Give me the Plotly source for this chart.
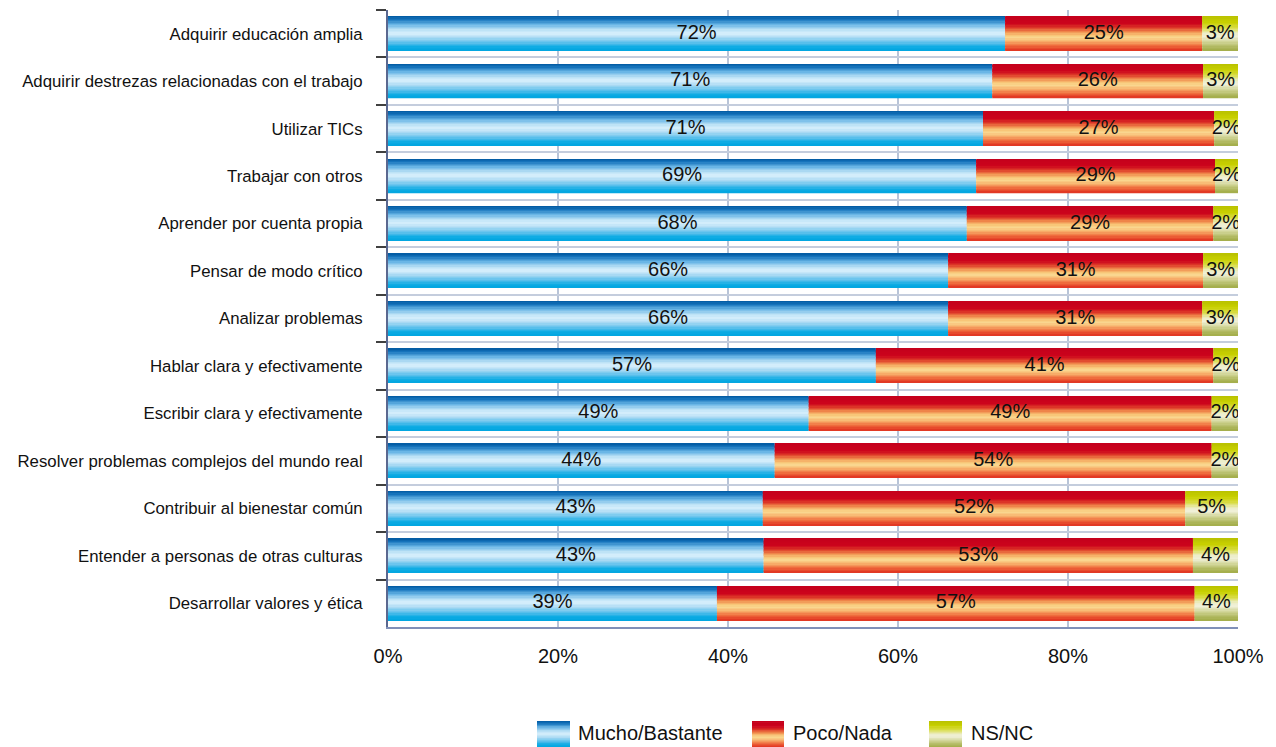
import plotly.graph_objects as go

# ---------------- data ----------------
categories = [
    "Adquirir educación amplia",
    "Adquirir destrezas relacionadas con el trabajo",
    "Utilizar TICs",
    "Trabajar con otros",
    "Aprender por cuenta propia",
    "Pensar de modo crítico",
    "Analizar problemas",
    "Hablar clara y efectivamente",
    "Escribir clara y efectivamente",
    "Resolver problemas complejos del mundo real",
    "Contribuir al bienestar común",
    "Entender a personas de otras culturas",
    "Desarrollar valores y ética",
]
# bar lengths as drawn (percent)
mucho = [72.6, 71.1, 70.0, 69.2, 68.1, 65.9, 65.9, 57.4, 49.5, 45.5, 44.1, 44.2, 38.7]
poco = [23.2, 24.8, 27.2, 28.1, 29.0, 30.0, 29.9, 39.7, 47.4, 51.4, 49.7, 50.5, 56.2]
nsnc = [4.2, 4.1, 2.8, 2.7, 2.9, 4.1, 4.2, 2.9, 3.1, 3.1, 6.2, 5.3, 5.1]
# printed labels
mucho_lbl = [72, 71, 71, 69, 68, 66, 66, 57, 49, 44, 43, 43, 39]
poco_lbl = [25, 26, 27, 29, 29, 31, 31, 41, 49, 54, 52, 53, 57]
nsnc_lbl = [3, 3, 2, 2, 2, 3, 3, 2, 2, 2, 5, 4, 4]
series_names = ["Mucho/Bastante", "Poco/Nada", "NS/NC"]
x_tickvals = [0, 20, 40, 60, 80, 100]
x_ticktext = ["0%", "20%", "40%", "60%", "80%", "100%"]

# ---------------- styles ----------------
GRAD = {
    "Mucho/Bastante": [(0.0, "#0058a0"), (0.10, "#1674bc"), (0.25, "#6ab6e6"),
                       (0.40, "#bde2f6"), (0.50, "#d8f0fc"), (0.62, "#b0dcf4"),
                       (0.78, "#5cc0ec"), (0.90, "#10ace4"), (1.0, "#00a6e0")],
    "Poco/Nada": [(0.0, "#c4001c"), (0.22, "#cc041c"), (0.34, "#de3a28"),
                  (0.45, "#f08a4c"), (0.55, "#f8c476"), (0.63, "#fad890"),
                  (0.73, "#f8b670"), (0.86, "#f06e3e"), (1.0, "#e03020")],
    "NS/NC": [(0.0, "#b8c000"), (0.18, "#c8d000"), (0.34, "#d8dc44"),
              (0.50, "#ecedc8"), (0.60, "#f0f0d8"), (0.75, "#d2d69a"),
              (0.90, "#b2ba62"), (1.0, "#a2ac48")],
}
NSLICE = 26
BARW = 0.72
LABEL_FONT = "Liberation Sans, Arial, sans-serif"
NUM_FONT = "Liberation Sans, Arial, sans-serif"

# page offset of the figure (browser body margin)
OFF = 8
PAGE_W, PAGE_H = 1276, 747


def hex2rgb(h):
    h = h.lstrip("#")
    return [int(h[i:i + 2], 16) for i in (0, 2, 4)]


def interp(stops, t):
    for (p0, c0), (p1, c1) in zip(stops[:-1], stops[1:]):
        if p0 <= t <= p1:
            f = (t - p0) / (p1 - p0) if p1 > p0 else 0
            a, b = hex2rgb(c0), hex2rgb(c1)
            r = [round(a[k] + (b[k] - a[k]) * f) for k in range(3)]
            return "rgb({},{},{})".format(*r)
    return stops[-1][1]


fig = go.Figure()

values = [mucho, poco, nsnc]
labels = [mucho_lbl, poco_lbl, nsnc_lbl]
bases = []
acc = [0.0] * len(categories)
for vals in values:
    bases.append(list(acc))
    acc = [a + v for a, v in zip(acc, vals)]

dw = BARW / NSLICE
for name, vals, base in zip(series_names, values, bases):
    for i in range(NSLICE):
        t = (i + 0.5) / NSLICE
        w = dw * 1.35 if i < NSLICE - 1 else dw
        fig.add_trace(go.Bar(
            y=categories, x=vals, base=base, orientation="h",
            offset=-BARW / 2 + i * dw, width=w,
            marker=dict(color=interp(GRAD[name], t), line=dict(width=0)),
            showlegend=False, hoverinfo="skip",
        ))

for vals, base, lbl in zip(values, bases, labels):
    fig.add_trace(go.Scatter(
        y=categories, x=[b + v / 2 for b, v in zip(base, vals)],
        mode="text", text=[f"{l}%" for l in lbl],
        textfont=dict(family=NUM_FONT, size=20, color="#111111"),
        showlegend=False, hoverinfo="skip",
    ))

# ---------------- legend (gradient swatches) ----------------
# plot area in page pixels
L, R, T, B = 388, 1238, 10, 627


def px2x(px):
    return (px - L) / (R - L)


def py2y(py):
    return (B - py) / (B - T)


legend_items = [(537, 570, 576), (752, 784, 791), (929, 962, 969)]
shapes = []
annotations = []
NS = 20
for name, (sx0, sx1, tx) in zip(series_names, legend_items):
    y_top, y_bot = 721, 747
    h = (y_bot - y_top) / NS
    for i in range(NS):
        t = (i + 0.5) / NS
        shapes.append(dict(
            type="rect", xref="paper", yref="paper",
            x0=px2x(sx0), x1=px2x(sx1),
            y0=py2y(y_top + i * h), y1=py2y(y_top + (i + 1) * h + (0.6 if i < NS - 1 else 0)),
            fillcolor=interp(GRAD[name], t), line=dict(width=0), layer="above",
        ))
    annotations.append(dict(
        xref="paper", yref="paper", x=px2x(tx), y=py2y(733),
        xanchor="left", yanchor="middle", text=name, showarrow=False,
        font=dict(family=NUM_FONT, size=20, color="#111111"),
    ))

W, H = PAGE_W - OFF, PAGE_H - OFF
fig.update_layout(
    width=W, height=H,
    margin=dict(l=L - OFF, r=PAGE_W - R, t=T - OFF, b=PAGE_H - B, pad=0, autoexpand=False),
    barmode="overlay",
    plot_bgcolor="white", paper_bgcolor="white",
    shapes=shapes, annotations=annotations,
    showlegend=False,
)
fig.update_xaxes(
    range=[0, 100], tickvals=x_tickvals, ticktext=x_ticktext,
    showgrid=True, gridcolor="#b8c4d8", gridwidth=2,
    showline=True, linecolor="#8090b8", linewidth=2,
    ticks="", ticklabelstandoff=10, zeroline=False, automargin=False,
    tickfont=dict(family=NUM_FONT, size=20, color="#111111"),
)
fig.update_yaxes(
    type="category", categoryorder="array", categoryarray=categories,
    range=[len(categories) - 0.5, -0.5], automargin=False,
    tickson="boundaries", ticks="outside", ticklen=10, tickwidth=2, tickcolor="#404040",
    showgrid=True, gridcolor="#c4cddd", gridwidth=2,
    showline=True, linecolor="#5a6890", linewidth=2,
    ticklabelstandoff=20,
    tickfont=dict(family=LABEL_FONT, size=16.8, color="#111111"),
)

fig.write_html("out.html")
